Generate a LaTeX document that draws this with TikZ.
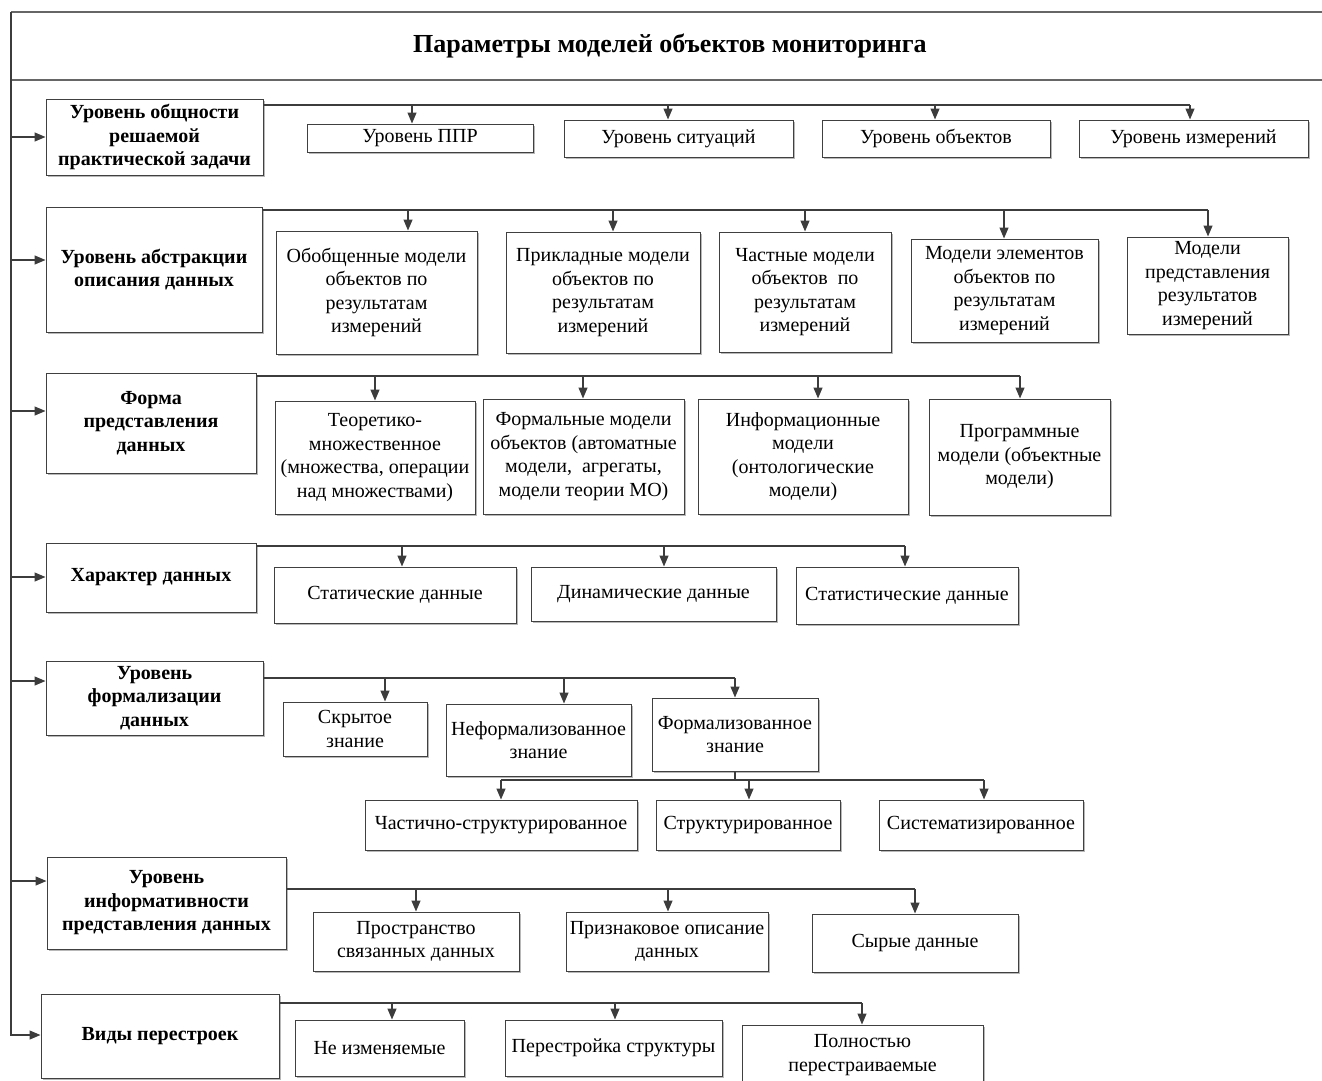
\documentclass[tikz,border=0pt]{standalone}
\usepackage{fontspec}
\setmainfont{Liberation Serif}
\usetikzlibrary{arrows.meta,shadows}
\definecolor{boxc}{HTML}{404040}
\definecolor{linec}{HTML}{3C3C3C}
\newcommand\fsz{\fontsize{20}{23.5}\selectfont}
\newcommand\bx[7][box]{\node[#1, minimum width={(#4)-(#3)}, minimum height={(#6)-(#5)}] (#2) at ({((#3)+(#4))/2},{((#5)+(#6))/2}) {#7};}
\newcommand\drop[3]{\coordinate (#1t) at (#2,#3); \draw[arr] (#1t) -- (#1t |- #1.north);}
\newcommand\feed[2]{\coordinate (#1s) at (11,#2); \draw[arr] (#1s) -- (#1s -| #1.west);}
\tikzset{
  box/.style={draw=boxc, line width=1pt, fill=white, inner sep=1pt, align=center, font=\fsz,
    drop shadow={shadow xshift=2pt, shadow yshift=-2pt, fill=black!28, opacity=1}},
  lbox/.style={box, font=\fsz\bfseries},
  arr/.style={draw=linec, line width=1.3pt, -{Triangle[length=11pt,width=9pt]}},
  bus/.style={draw=linec, line width=1.3pt},
  frame/.style={draw=boxc!80, line width=1.3pt},
}
\begin{document}
\begin{tikzpicture}[x=1pt,y=-1pt]
\useasboundingbox (0,0) rectangle (1322,1081);
% frame
\coordinate (ftl) at (11,12);
\coordinate (ftr) at (1340,12);
\coordinate (fml) at (11,80);
\coordinate (fmr) at (1340,80);
\draw[frame] (ftr) -- (ftl);
\draw[frame] (fml) -- (fmr);
\node[font=\fontsize{26}{30}\selectfont\bfseries] (title) at (670,46) {Параметры моделей объектов мониторинга};

% left boxes
\bx[lbox]{L1}{46}{263}{99}{175}{Уровень общности\\решаемой\\практической задачи}
\bx[lbox]{L2}{46}{262}{207}{332}{Уровень абстракции\\описания данных}
\bx[lbox]{L3}{46}{256}{373}{473}{Форма\\представления\\данных}
\bx[lbox]{L4}{46}{256}{543}{612}{Характер данных}
\bx[lbox]{L5}{46}{263}{661}{735}{Уровень\\формализации\\данных}
\bx[lbox]{L6}{47}{286}{857}{949}{Уровень\\информативности\\представления данных}
\bx[lbox]{L7}{41}{279}{994}{1078}{Виды перестроек}

% spine
\coordinate (L7s) at (11,1035);
\draw[arr] (ftl) -- (L7s) -- (L7s -| L7.west);
\feed{L1}{137}
\feed{L2}{260}
\feed{L3}{411}
\feed{L4}{577}
\feed{L5}{681}
\feed{L6}{881}

% row 1
\bx{c11}{307}{533}{124}{152}{Уровень ППР}
\bx{c12}{564}{793}{120}{157}{Уровень ситуаций}
\bx{c13}{822}{1050}{120}{157}{Уровень объектов}
\bx{c14}{1079}{1308}{120}{157}{Уровень измерений}
\drop{c11}{412}{105}
\drop{c12}{668}{105}
\drop{c13}{935}{105}
\drop{c14}{1190}{105}
\draw[bus] (L1.east |- c11t) -- (c14t);

% row 2
\bx{c21}{276}{477}{231}{354}{Обобщенные модели\\объектов по\\результатам\\измерений}
\bx{c22}{506}{700}{232}{353}{Прикладные модели\\объектов по\\результатам\\измерений}
\bx{c23}{719}{891}{232}{352}{Частные модели\\объектов \ по\\результатам\\измерений}
\bx{c24}{911}{1098}{239}{342}{Модели элементов\\объектов по\\результатам\\измерений}
\bx{c25}{1127}{1288}{237}{334}{Модели\\представления\\результатов\\измерений}
\drop{c21}{408}{210}
\drop{c22}{613}{210}
\drop{c23}{805}{210}
\drop{c24}{1004}{210}
\drop{c25}{1208}{210}
\draw[bus] (L2.east |- c21t) -- (c25t);

% row 3
\bx{c31}{275}{475}{401}{514}{Теоретико-\\множественное\\(множества, операции\\над множествами)}
\bx{c32}{483}{684}{399}{514}{Формальные модели\\объектов (автоматные\\модели, \ агрегаты,\\модели теории МО)}
\bx{c33}{698}{908}{399}{514}{Информационные\\модели\\(онтологические\\модели)}
\bx{c34}{929}{1110}{399}{515}{Программные\\модели (объектные\\модели)}
\drop{c31}{375}{376}
\drop{c32}{583}{376}
\drop{c33}{818}{376}
\drop{c34}{1020}{376}
\draw[bus] (L3.east |- c31t) -- (c34t);

% row 4
\bx{c41}{274}{516}{567}{623}{Статические данные}
\bx{c42}{531}{776}{567}{621}{Динамические данные}
\bx{c43}{796}{1018}{567}{624}{Статистические данные}
\drop{c41}{402}{546}
\drop{c42}{664}{546}
\drop{c43}{905}{546}
\draw[bus] (L4.east |- c41t) -- (c43t);

% row 5
\bx{c51}{283}{427}{702}{756}{Скрытое\\знание}
\bx{c52}{446}{631}{704}{776}{Неформализованное\\знание}
\bx{c53}{652}{818}{698}{771}{Формализованное\\знание}
\drop{c51}{385}{678}
\drop{c52}{564}{678}
\drop{c53}{735}{678}
\draw[bus] (L5.east |- c51t) -- (c53t);
\bx{c54}{365}{637}{800}{850}{Частично-структурированное}
\bx{c55}{656}{840}{800}{850}{Структурированное}
\bx{c56}{879}{1083}{800}{850}{Систематизированное}
\drop{c54}{501}{780}
\drop{c55}{749}{780}
\drop{c56}{984}{780}
\draw[bus] (c53.south) -- (c53.south |- c54t);
\draw[bus] (c54t) -- (c56t);

% row 6
\bx{c61}{313}{519}{912}{971}{Пространство\\связанных данных}
\bx{c62}{566}{768}{912}{971}{Признаковое описание\\данных}
\bx{c63}{812}{1018}{914}{972}{Сырые данные}
\drop{c61}{416}{889}
\drop{c62}{668}{889}
\drop{c63}{915}{889}
\draw[bus] (L6.east |- c61t) -- (c63t);

% row 7
\bx{c71}{295}{464}{1020}{1076}{Не изменяемые}
\bx{c72}{505}{722}{1020}{1076}{Перестройка структуры}
\bx{c73}{742}{983}{1025}{1085}{Полностью\\перестраиваемые}
\drop{c71}{392}{1003}
\drop{c72}{615}{1003}
\drop{c73}{862}{1003}
\draw[bus] (L7.east |- c71t) -- (c73t);
\end{tikzpicture}
\end{document}
